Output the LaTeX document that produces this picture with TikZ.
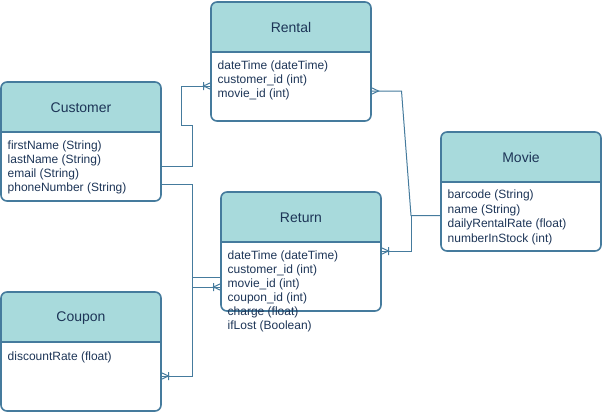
\documentclass[tikz,border=0pt]{standalone}
\usepackage{fontspec}
\setmainfont{Liberation Sans}
\definecolor{erline}{HTML}{457B9D}
\definecolor{erhead}{HTML}{A8DADC}
\definecolor{ertext}{HTML}{1D3557}
\begin{document}
\begin{tikzpicture}[x=1pt, y=-1pt,
  entity/.style={draw=erline, line width=1.6pt, rounded corners=6pt, minimum width=160pt, minimum height=119pt, inner sep=0pt, outer sep=0pt},
  title/.style={text=ertext, inner sep=0pt, font=\fontsize{14}{16}\selectfont},
  row/.style={anchor=west, inner sep=0pt, text=ertext, font=\fontsize{12}{14}\selectfont, text height=8.6pt, text depth=2.4pt},
  link/.style={draw=erline, line width=1pt},
  onemany/.pic={\draw[link] (0,-3.5) -- (-7.5,0) -- (0,3.5) (-7.5,-4) -- (-7.5,4);},
  many/.pic={\draw[link] (0,-3.5) -- (-7.5,0) -- (0,3.5);}]

\useasboundingbox (0,0) rectangle (602,412);

\fill[erhead, rounded corners=6pt] (211,2) rectangle (371,52);
\fill[erhead] (211,40) rectangle (371,52);
\fill[erhead, rounded corners=6pt] (1,82) rectangle (161,132);
\fill[erhead] (1,120) rectangle (161,132);
\fill[erhead, rounded corners=6pt] (441,132) rectangle (601,182);
\fill[erhead] (441,170) rectangle (601,182);
\fill[erhead, rounded corners=6pt] (221,192) rectangle (381,242);
\fill[erhead] (221,230) rectangle (381,242);
\fill[erhead, rounded corners=6pt] (1,292) rectangle (161,342);
\fill[erhead] (1,330) rectangle (161,342);

\node[entity] (rental) at (291,61.5) {};
\node[entity] (customer) at (81,141.5) {};
\node[entity] (movie) at (521,191.5) {};
\node[entity] (return) at (301,251.5) {};
\node[entity] (coupon) at (81,351.5) {};

\draw[erline, line width=1.6pt] (rental.west |- 0,52) -- (rental.east |- 0,52);
\draw[erline, line width=1.6pt] (customer.west |- 0,132) -- (customer.east |- 0,132);
\draw[erline, line width=1.6pt] (movie.west |- 0,182) -- (movie.east |- 0,182);
\draw[erline, line width=1.6pt] (return.west |- 0,242) -- (return.east |- 0,242);
\draw[erline, line width=1.6pt] (coupon.west |- 0,342) -- (coupon.east |- 0,342);

\node[title] (rental-t) at (291,27.8) {Rental};
\node[title] (customer-t) at (81,107.8) {Customer};
\node[title] (movie-t) at (521,157.8) {Movie};
\node[title] (return-t) at (301,217.8) {Return};
\node[title] (coupon-t) at (81,317.8) {Coupon};

\node[row] (rental-1) at (217.5,66.8) {dateTime (dateTime)};
\node[row] (rental-2) at (217.5,80.7) {customer\_id (int)};
\node[row] (rental-3) at (217.5,94.6) {movie\_id (int)};

\node[row] (customer-1) at (7.5,146.8) {firstName (String)};
\node[row] (customer-2) at (7.5,160.7) {lastName (String)};
\node[row] (customer-3) at (7.5,174.6) {email (String)};
\node[row] (customer-4) at (7.5,188.5) {phoneNumber (String)};

\node[row] (movie-1) at (447.5,195.5) {barcode (String)};
\node[row] (movie-2) at (447.5,210) {name (String)};
\node[row] (movie-3) at (447.5,224.5) {dailyRentalRate (float)};
\node[row] (movie-4) at (447.5,239) {numberInStock (int)};

\node[row] (return-1) at (227.5,256.8) {dateTime (dateTime)};
\node[row] (return-2) at (227.5,270.7) {customer\_id (int)};
\node[row] (return-3) at (227.5,284.6) {movie\_id (int)};
\node[row] (return-4) at (227.5,298.5) {coupon\_id (int)};
\node[row] (return-5) at (227.5,312.4) {charge (float)};
\node[row] (return-6) at (227.5,326.3) {ifLost (Boolean)};

\node[row] (coupon-1) at (7.5,357.2) {discountRate (float)};

\draw[link] (customer.east |- 0,166.5) -| (192,125.5) -| (181,86) -- (rental.west |- 0,86);
\draw[link] (rental.east |- 0,91) -- (401.5,91) -- (411,215.5) -- (movie.west |- 0,215.5);
\draw[link] (movie.west |- 0,215.5) -| (411,251) -- (return.east |- 0,251);
\draw[link] (customer.east |- 0,184) -| (192,287) -- (return.west |- 0,287);
\draw[link] (coupon.east |- 0,376) -| (192,277) -- (return.west |- 0,277);

\pic at (rental.west |- 0,86) {onemany};
\pic[rotate=180] at (rental.east |- 0,91) {many};
\pic[rotate=180] at (return.east |- 0,251) {onemany};
\pic at (return.west |- 0,287) {onemany};
\pic[rotate=180] at (coupon.east |- 0,376) {onemany};
\end{tikzpicture}
\end{document}
